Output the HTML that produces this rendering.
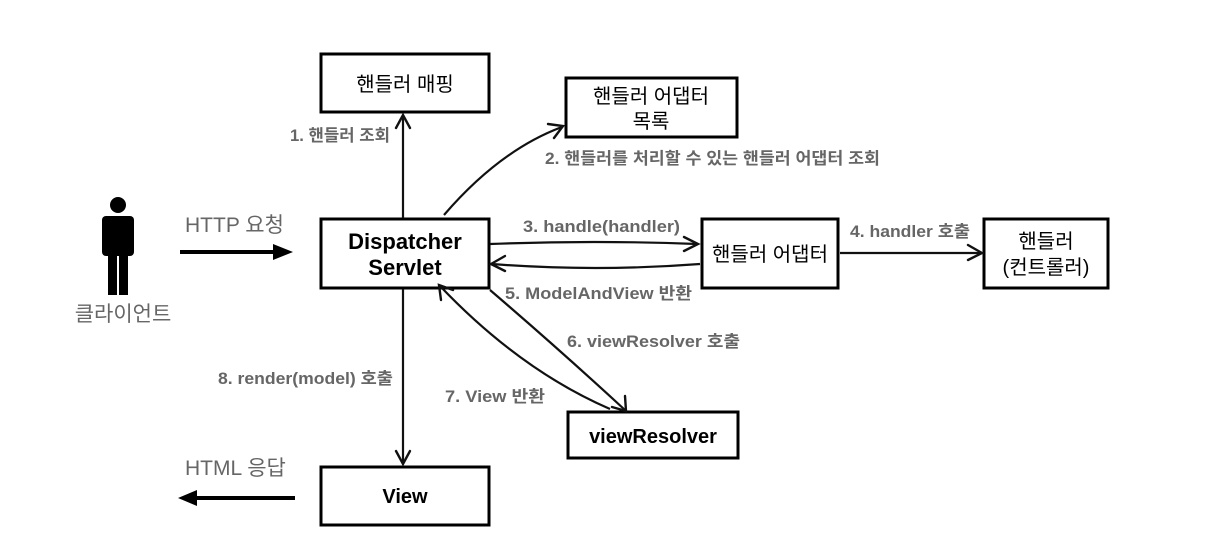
<!DOCTYPE html>
<html><head><meta charset="utf-8"><style>
body{margin:0;background:#fff}
svg{display:block}
.b{fill:#fff;stroke:#000;stroke-width:3}
.t{font-family:"Liberation Sans","Noto Sans CJK KR",sans-serif;font-size:20px;fill:#000;text-anchor:middle}
.l{font-family:"Liberation Sans","Noto Sans CJK KR",sans-serif;font-size:16.5px;font-weight:bold;fill:#666}
.g{font-family:"Liberation Sans","Noto Sans CJK KR",sans-serif;font-size:21px;fill:#666}
.a{fill:none;stroke:#111;stroke-width:2.2}
.h{fill:none;stroke:#111;stroke-width:2.4;stroke-linecap:round}
</style></head><body>
<svg width="1212" height="550" viewBox="0 0 1212 550">
<rect class="b" x="321" y="54" width="168" height="58"/>
<text class="t" x="405" y="91">핸들러 매핑</text>
<rect class="b" x="566" y="78" width="171" height="59"/>
<text class="t" x="651" y="103">핸들러 어댑터</text>
<text class="t" x="651" y="128">목록</text>
<rect class="b" x="321" y="219" width="168" height="69"/>
<text class="t" x="405" y="249" style="font-weight:bold;font-size:22px">Dispatcher</text>
<text class="t" x="405" y="275" style="font-weight:bold;font-size:22px">Servlet</text>
<rect class="b" x="702" y="219" width="136" height="69"/>
<text class="t" x="770" y="261">핸들러 어댑터</text>
<rect class="b" x="984" y="219" width="124" height="69"/>
<text class="t" x="1046" y="248">핸들러</text>
<text class="t" x="1046" y="274">(컨트롤러)</text>
<rect class="b" x="568" y="412" width="170" height="46"/>
<text class="t" x="653" y="443" style="font-weight:bold">viewResolver</text>
<rect class="b" x="321" y="467" width="168" height="58"/>
<text class="t" x="405" y="503" style="font-weight:bold">View</text>

<circle cx="118" cy="205" r="8" fill="#000"/>
<rect x="102" y="216" width="32" height="40" rx="4" fill="#000"/>
<rect x="108" y="240" width="9" height="55" fill="#000"/>
<rect x="119" y="240" width="9" height="55" fill="#000"/>
<text class="g" x="123" y="321" style="text-anchor:middle">클라이언트</text>

<text class="g" x="185" y="232">HTTP 요청</text>
<line x1="180" y1="252" x2="275" y2="252" stroke="#000" stroke-width="4"/>
<polygon points="273,244 293,252 273,260" fill="#000"/>
<text class="g" x="185" y="475">HTML 응답</text>
<line x1="195" y1="498" x2="295" y2="498" stroke="#000" stroke-width="4"/>
<polygon points="197,490 178,498 197,506" fill="#000"/>

<line class="a" x1="403" y1="218" x2="403" y2="116"/>
<path class="h" d="M396,128 L403,115 L410,128"/>
<text class="l" x="290" y="141" textLength="100" lengthAdjust="spacingAndGlyphs">1. 핸들러 조회</text>
<path class="a" d="M444,215 Q500,150 562,127"/>
<path class="h" d="M548,124 L563,126 L554,138"/>
<text class="l" x="545" y="164" textLength="335" lengthAdjust="spacingAndGlyphs">2. 핸들러를 처리할 수 있는 핸들러 어댑터 조회</text>
<path class="a" d="M490,244 Q595,240 697,244"/>
<path class="h" d="M684,237 L698,244 L684,251"/>
<text class="l" x="523" y="232" textLength="157" lengthAdjust="spacingAndGlyphs">3. handle(handler)</text>
<path class="a" d="M700,264 Q595,272 492,264"/>
<path class="h" d="M505,256 L491,264 L505,271"/>
<text class="l" x="505" y="299" textLength="187" lengthAdjust="spacingAndGlyphs">5. ModelAndView 반환</text>
<line class="a" x1="840" y1="253" x2="982" y2="253"/>
<path class="h" d="M968,245 L982,253 L968,260"/>
<text class="l" x="850" y="237" textLength="120" lengthAdjust="spacingAndGlyphs">4. handler 호출</text>
<path class="a" d="M490,290 Q560,350 625,410"/>
<path class="h" d="M625,396 L626,411 L612,407"/>
<text class="l" x="567" y="347" textLength="173" lengthAdjust="spacingAndGlyphs">6. viewResolver 호출</text>
<path class="a" d="M610,409 Q520,370 440,286"/>
<path class="h" d="M441,300 L439,285 L453,290"/>
<text class="l" x="445" y="402" textLength="100" lengthAdjust="spacingAndGlyphs">7. View 반환</text>
<line class="a" x1="403" y1="289" x2="403" y2="463"/>
<path class="h" d="M396,451 L403,464 L410,451"/>
<text class="l" x="218" y="384" textLength="175" lengthAdjust="spacingAndGlyphs">8. render(model) 호출</text>
</svg>
</body></html>
